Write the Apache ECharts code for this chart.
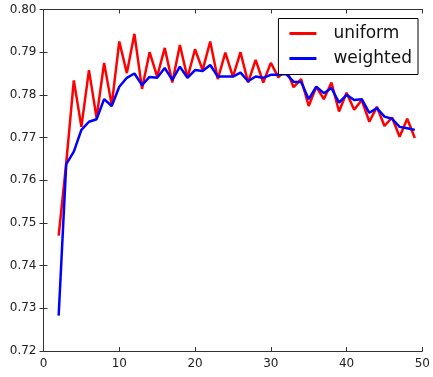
<!DOCTYPE html>
<html>
<head>
<meta charset="utf-8">
<script src="https://cdn.jsdelivr.net/npm/echarts@6/dist/echarts.min.js"></script>
<style>html,body{margin:0;padding:0;background:#fff}#c{width:433px;height:377px}</style>
</head>
<body>
<div id="c"></div>
<script>
const epochs = [2,3,4,5,6,7,8,9,10,11,12,13,14,15,16,17,18,19,20,21,22,23,24,25,26,27,28,29,30,31,32,33,34,35,36,37,38,39,40,41,42,43,44,45,46,47,48,49];
const uniform = [0.747,0.764,0.7834,0.7725,0.7858,0.7746,0.7875,0.7776,0.7925,0.7851,0.7943,0.7814,0.7900,0.7843,0.7910,0.7829,0.7917,0.7840,0.7907,0.7858,0.7925,0.7837,0.7899,0.7842,0.7900,0.7829,0.7882,0.7829,0.7875,0.7841,0.7863,0.7818,0.7837,0.7774,0.7819,0.7790,0.7829,0.7761,0.7805,0.7765,0.7788,0.7737,0.7772,0.7727,0.7747,0.7702,0.7744,0.7699];
const weighted = [0.7283,0.7638,0.7667,0.7718,0.7737,0.7743,0.7790,0.7774,0.7819,0.7840,0.7850,0.7823,0.7842,0.7840,0.7863,0.7835,0.7866,0.7840,0.7858,0.7856,0.7870,0.7843,0.7843,0.7843,0.7852,0.7832,0.7843,0.7840,0.7847,0.7847,0.7849,0.7831,0.7830,0.7790,0.7819,0.7804,0.7816,0.7782,0.7800,0.7788,0.7790,0.7758,0.7769,0.7749,0.7744,0.7725,0.7722,0.7718];
const xTicks = [0,10,20,30,40,50];
const yTicks = [0.72,0.73,0.74,0.75,0.76,0.77,0.78,0.79,0.80];

const chart = echarts.init(document.getElementById('c'), null, {renderer:'canvas'});
const axisLine = {show:true, lineStyle:{color:'#333', width:1}};
const tick = {show:true, inside:true, length:4, lineStyle:{color:'#333', width:1}};
const lbl = {color:'#222', fontFamily:'DejaVu Sans', fontSize:12};
chart.setOption({
  animation:false,
  backgroundColor:'#fff',
  grid:{left:43.5, right:6.3, top:9.5, bottom:26, containLabel:false},
  legend:{
    orient:'vertical', right:15, top:18.5,
    backgroundColor:'#fff', borderColor:'#000', borderWidth:1,
    padding:[5,6,6,11], itemGap:5, itemWidth:27, itemHeight:3,
    icon:'rect',
    textStyle:{color:'#111', fontFamily:'DejaVu Sans', fontSize:17, lineHeight:20, padding:[0,0,0,12]},
    data:['uniform','weighted']
  },
  xAxis:[
    {type:'value', min:xTicks[0], max:xTicks[xTicks.length-1], interval:10, position:'bottom',
     axisLine:axisLine, axisTick:tick, splitLine:{show:false},
     axisLabel:Object.assign({margin:7}, lbl)},
    {type:'value', min:xTicks[0], max:xTicks[xTicks.length-1], interval:10, position:'top',
     axisLine:axisLine, axisTick:tick, splitLine:{show:false}, axisLabel:{show:false}}
  ],
  yAxis:[
    {type:'value', min:yTicks[0], max:yTicks[yTicks.length-1], interval:0.01, position:'left',
     axisLine:axisLine, axisTick:tick, splitLine:{show:false},
     axisLabel:Object.assign({margin:7, formatter:v=>v.toFixed(2)}, lbl)},
    {type:'value', min:yTicks[0], max:yTicks[yTicks.length-1], interval:0.01, position:'right',
     axisLine:axisLine, axisTick:tick, splitLine:{show:false}, axisLabel:{show:false}}
  ],
  series:[
    {name:'uniform', type:'line', showSymbol:false, symbol:'none', color:'#ff0000',
     lineStyle:{color:'#ff0000', width:2.5}, data:epochs.map((e,i)=>[e, uniform[i]])},
    {name:'weighted', type:'line', showSymbol:false, symbol:'none', color:'#0000ff',
     lineStyle:{color:'#0000ff', width:2.5}, data:epochs.map((e,i)=>[e, weighted[i]])}
  ]
});
</script>
</body>
</html>
